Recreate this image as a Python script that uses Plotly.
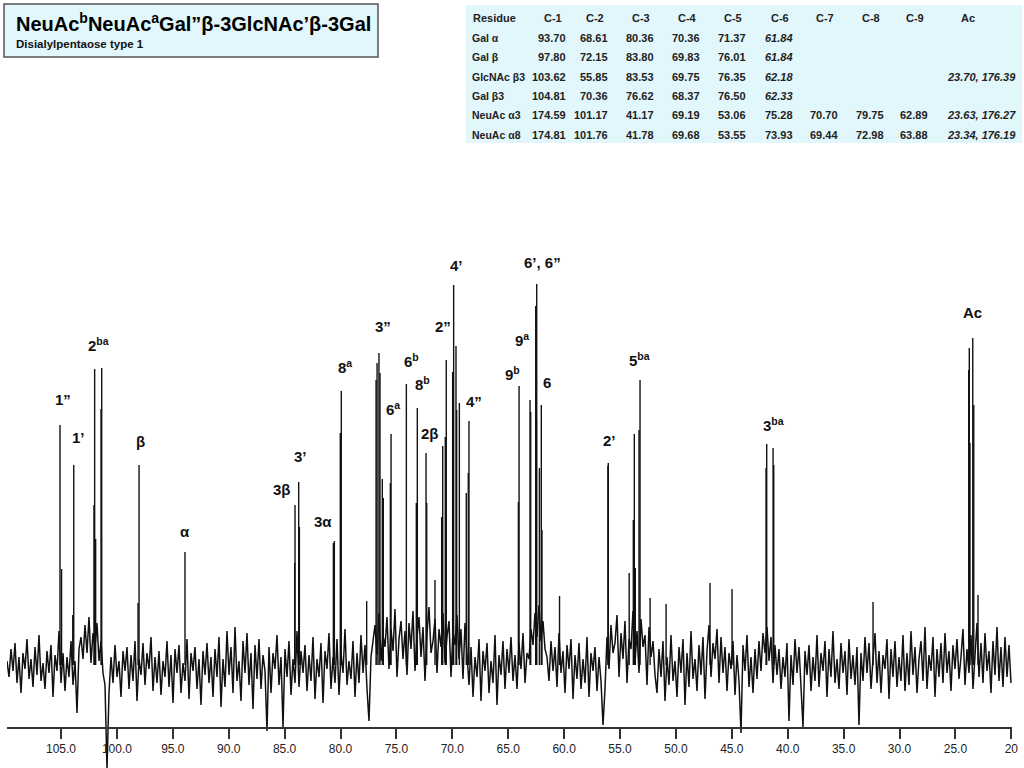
import numpy as np
import plotly.graph_objects as go

# ---------------- data ----------------
title_main = "NeuAc<sup>b</sup>NeuAc<sup>a</sup>Gal\u201dβ-3GlcNAc\u2019β-3Gal"
title_sub = "Disialylpentaose type 1"

table_header = ["Residue", "C-1", "C-2", "C-3", "C-4", "C-5", "C-6", "C-7", "C-8", "C-9", "Ac"]
table_residues = ["Gal α", "Gal β", "GlcNAc β3", "Gal β3", "NeuAc α3", "NeuAc α8"]
table_c1 = ["93.70", "97.80", "103.62", "104.81", "174.59", "174.81"]
table_c2 = ["68.61", "72.15", "55.85", "70.36", "101.17", "101.76"]
table_c3 = ["80.36", "83.80", "83.53", "76.62", "41.17", "41.78"]
table_c4 = ["70.36", "69.83", "69.75", "68.37", "69.19", "69.68"]
table_c5 = ["71.37", "76.01", "76.35", "76.50", "53.06", "53.55"]
table_c6 = ["<i>61.84</i>", "<i>61.84</i>", "<i>62.18</i>", "<i>62.33</i>", "75.28", "73.93"]
table_c7 = ["", "", "", "", "70.70", "69.44"]
table_c8 = ["", "", "", "", "79.75", "72.98"]
table_c9 = ["", "", "", "", "62.89", "63.88"]
table_ac = ["", "", "<i>23.70, 176.39</i>", "", "<i>23.63, 176.27</i>", "<i>23.34, 176.19</i>"]

# peak positions (ppm) and intensities (arbitrary units)
peak_ppm = [105.09, 104.95, 103.95, 103.86, 102.05, 101.99, 101.90, 101.42, 101.36,
            98.11, 98.02, 93.91, 84.10, 84.07, 83.74, 83.68, 80.64, 80.55, 80.02, 79.93,
            77.66, 76.82, 76.73, 76.56, 76.47, 76.26, 76.17, 75.54, 75.48, 74.11,
            73.22, 73.13, 72.35, 72.29, 71.55, 70.95, 70.86, 70.63, 70.54, 69.97,
            69.88, 69.67, 69.61, 69.37, 68.75, 68.57, 68.51, 64.09, 64.03, 63.05,
            62.99, 62.54, 62.48, 62.45, 62.21, 62.04, 61.98, 60.41, 56.08, 56.05,
            54.18, 53.81, 53.72, 53.63, 53.30, 53.21, 52.31, 50.88, 46.95, 44.98,
            41.94, 41.88, 41.31, 41.25, 32.37, 23.81, 23.76, 23.70, 23.45, 23.36, 22.98]
peak_int = [120, 48, 25, 100, 80, 148, 63, 128, 148.5,
            31, 100, 56.5, 51, 80, 91.5, 69, 61, 62, 116, 137,
            32, 142.5, 151, 156, 146, 93, 83.5, 91, 115.5, 140.5,
            81, 128.5, 106, 81, 42.5, 74, 109.5, 114, 152.5, 146.5,
            190, 159.5, 127.5, 131, 86, 96, 122, 81.5, 139.5, 132.5,
            126.5, 179.5, 122.5, 190.5, 98.5, 130, 67.5, 34.5, 99.5, 101,
            46, 72.5, 115.5, 48.5, 117.5, 142.5, 33.5, 30.5, 41, 38,
            98.5, 110.5, 108.5, 100, 31.5, 147.5, 158.5, 111, 163.5, 130, 35]

noise_first_ppm = 109.83
noise_last_ppm = 20.03
noise_int = [
    2, -6, 8, -3, 11, -9, 4, -14, 6, -2, 13, -7, 3, -11, 9, -5, 15, -8, 1, -12, 7, -4, 10, -16, 5,
    -3, 17, -9, 6, -13, 4, -6, 12, -10, 2, -24, 8, 14, 3, 20, 6, 24, 1, 16, 9, 21, 2, 12, -4, -10,
    -52, -14, 4, -9, 10, -6, 2, -16, 7, -3, 9, -12, 5, -8, 12, -18, 3, -5, 11, -10, 6, -2, 14, -13, 4,
    -9, 7, -15, 2, -6, 12, -11, 5, -19, 8, -4, 10, -14, 1, -8, 13, -17, 6, -3, 9, -12, 3, -20, 7, -5,
    11, -9, 4, -16, 8, -6, 14, -21, 3, -11, 17, -5, 9, -14, 19, -8, 2, -18, 12, -4, 16, -10, 6, -22, 10,
    -7, 13, -12, 5, -3, -33, 9, -14, 6, -2, 15, -10, 4, -31, 8, -6, 12, -15, 3, -9, 17, -11, 7, -4, 10,
    -13, 5, -8, 14, -17, 3, -6, 11, -19, 7, -2, 16, -12, 4, -9, 13, -15, 6, -4, 18, -10, 2, -7, 12, -16,
    6, -9, 15, -4, 10, -12, -28, 4, 11, 20, 5, 26, 2, 15, 9, 24, -2, 18, 7, 28, -6, 13, 22, 3, 17,
    -5, 21, 8, 27, -3, 14, 24, 4, 19, -8, 16, 29, 6, 12, 23, -4, 18, 9, 26, 1, 14, 22, -6, 17, 10,
    25, 3, 18, -7, 21, 6, -10, 9, -16, 4, -6, 13, -18, 7, -3, 11, -14, 2, -9, 15, -20, 5, -5, 12, -12,
    8, -4, 14, -8, 5, -12, 11, -2, 16, -9, 6, 3, 18, 10, 26, 14, 30, 12, 22, 8, 4, -8, 12, -3, 9,
    -11, 16, -4, 7, -14, 10, -2, 13, -17, 5, -7, 11, -12, 3, -9, 14, -16, 6, -3, 9, -13, 4, -8, -30, -12,
    14, -2, 20, 6, 11, 25, -6, 16, 3, 22, -9, 13, 8, 27, 1, 17, -4, 23, 9, 15, -10, 19, 4, 12, -5,
    -14, 8, -6, 12, -18, 4, -10, 15, -8, 2, -16, 9, -4, 13, -20, 6, -11, 17, -7, 3, -13, 10, -5, 14, -17,
    7, 20, -6, 11, 3, 18, -9, 14, -4, 9, -13, 6, -2, 12, -15, 5, -8, -34, 10, -3, 15, -11, 4, -14, 8,
    -7, 12, -3, 16, 6, 19, 2, 14, -9, 10, -5, 8, -12, 4, -6, 11, -28, 5, -10, 13, -4, 9, -14, -31, 7,
    -5, 10, -13, 4, -8, 15, -11, 6, -3, 12, -16, 8, -6, 17, -9, 3, -12, 11, -4, 7, -15, 13, -7, 5, -10,
    9, -30, 6, -8, 14, -4, 11, -12, 3, 16, -9, 7, -14, 5, -2, 13, -17, 8, -6, 12, -11, 4, -8, 15, -13,
    6, -10, 17, -5, 9, -14, 3, 12, -8, 19, -12, 5, -3, 14, -16, 8, -6, 11, -9, 16, -4, 7, -13, 10, -2,
    13, -7, 4, 18, -10, 8, -4, 15, -12, 6, 21, -6, 11, -9, 16, -3, 7, -14, 12, -5, 19, -8, 9, -11, 14,
    -6, 10, -9,
]

label_text = ["1\u201d", "1\u2019", "2<sup>ba</sup>", "β", "α", "3β", "3\u2019", "3α",
              "8<sup>a</sup>", "3\u201d", "6<sup>a</sup>", "6<sup>b</sup>", "8<sup>b</sup>", "2β",
              "2\u201d", "4\u2019", "4\u201d", "9<sup>b</sup>", "9<sup>a</sup>", "6\u2019, 6\u201d",
              "6", "2\u2019", "5<sup>ba</sup>", "3<sup>ba</sup>", "Ac"]
label_ppm = [104.82, 103.48, 101.69, 97.93, 93.91, 85.23, 83.62, 81.57,
             79.60, 76.20, 75.30, 73.69, 72.71, 71.99,
             70.83, 69.67, 68.06, 64.66, 63.77, 61.89,
             61.53, 55.98, 53.30, 41.31, 23.43]
label_int = [132.5, 113.5, 160, 111.5, 67, 87.5, 104, 72,
             149, 169, 128, 152, 140.5, 115.5,
             169, 199.5, 131.5, 145.5, 162.5, 201,
             141, 112, 152.5, 120, 176]

axis_range = [109.83, 19.94]
tick_vals = [105, 100, 95, 90, 85, 80, 75, 70, 65, 60, 55, 50, 45, 40, 35, 30, 25, 20]
tick_text = ["105.0", "100.0", "95.0", "90.0", "85.0", "80.0", "75.0", "70.0", "65.0",
             "60.0", "55.0", "50.0", "45.0", "40.0", "35.0", "30.0", "25.0", "20"]

# ---------------- figure ----------------
W, H = 1024, 768
def px(x):
    return x / W
def py(y):
    return 1 - y / H

noise_ppm = np.linspace(noise_first_ppm, noise_last_ppm, len(noise_int))

stick_x, stick_y = [], []
for p, h in zip(peak_ppm, peak_int):
    stick_x += [p, p, None]
    stick_y += [0, h, None]

fig = go.Figure()
fig.add_trace(go.Scatter(x=noise_ppm, y=noise_int, mode="lines",
                         line=dict(color="#111111", width=1.5), hoverinfo="skip"))
fig.add_trace(go.Scatter(x=stick_x, y=stick_y, mode="lines",
                         line=dict(color="#111111", width=1.4), hoverinfo="skip"))

FONT = "Liberation Sans, Arial, sans-serif"
ann = []
for t, xp, yi in zip(label_text, label_ppm, label_int):
    ann.append(dict(x=xp, y=yi, xref="x", yref="y", text="<b>" + t + "</b>",
                    showarrow=False, font=dict(family=FONT, size=15, color="#111")))

shapes = [
    dict(type="rect", xref="paper", yref="paper", x0=px(4), x1=px(378), y0=py(57), y1=py(4),
         fillcolor="#E1F7FB", line=dict(color="#555555", width=1.5), layer="below"),
    dict(type="rect", xref="paper", yref="paper", x0=px(466), x1=px(1022), y0=py(143), y1=py(5),
         fillcolor="#E1F7FB", line=dict(width=0), layer="below"),
]
ann.append(dict(x=px(14), y=py(22), xref="paper", yref="paper", xanchor="left", yanchor="middle",
                text="<b>" + title_main + "</b>", showarrow=False,
                font=dict(family=FONT, size=20, color="#000")))
ann.append(dict(x=px(14), y=py(44), xref="paper", yref="paper", xanchor="left", yanchor="middle",
                text="<b>" + title_sub + "</b>", showarrow=False,
                font=dict(family=FONT, size=11.5, color="#111")))

# table
row_y = [38, 57, 76.5, 96, 115, 134.5]
col_right = [568, 610, 656, 702, 748, 795, 840, 886, 930, 1018]
columns = [table_c1, table_c2, table_c3, table_c4, table_c5, table_c6,
           table_c7, table_c8, table_c9, table_ac]
tfont = dict(family=FONT, size=11, color="#222")
ann.append(dict(x=px(471), y=py(18), xref="paper", yref="paper", xanchor="left", yanchor="middle",
                text="<b>" + table_header[0] + "</b>", showarrow=False, font=tfont))
for j, hdr in enumerate(table_header[1:]):
    cx = col_right[j] - 15 if j < 9 else 968
    ann.append(dict(x=px(cx), y=py(18), xref="paper", yref="paper", xanchor="center",
                    yanchor="middle", text="<b>" + hdr + "</b>", showarrow=False, font=tfont))
for i, res in enumerate(table_residues):
    ann.append(dict(x=px(470), y=py(row_y[i]), xref="paper", yref="paper", xanchor="left",
                    yanchor="middle", text="<b>" + res + "</b>", showarrow=False,
                    font=dict(family=FONT, size=10.5, color="#222")))
    for j, col in enumerate(columns):
        if col[i]:
            ann.append(dict(x=px(col_right[j]), y=py(row_y[i]), xref="paper", yref="paper",
                            xanchor="right", yanchor="middle", text="<b>" + col[i] + "</b>",
                            showarrow=False, font=tfont))

fig.update_layout(
    width=W, height=H, margin=dict(l=0, r=0, t=0, b=0),
    paper_bgcolor="white", plot_bgcolor="white", showlegend=False,
    annotations=ann, shapes=shapes,
    xaxis=dict(domain=[px(7), px(1012)], range=axis_range,
               anchor="free", position=py(728), showline=True, linecolor="#333",
               linewidth=1.5, ticks="outside", ticklen=10, tickwidth=1.5, tickcolor="#333",
               tickvals=tick_vals, ticktext=tick_text, showgrid=False, zeroline=False,
               tickfont=dict(family=FONT, size=12, color="#222"), automargin=False),
    yaxis=dict(domain=[0, 1 - 235 / H], range=[-51.5, 215], visible=False,
               showgrid=False, zeroline=False),
)

fig.write_html("out.html", config={"displayModeBar": False})

# remove the default page margin so the 1024x768 figure fills the window exactly
with open("out.html", encoding="utf-8") as f:
    html = f.read()
html = html.replace("<head>", "<head><style>html,body{margin:0;padding:0;overflow:hidden;}</style>", 1)
with open("out.html", "w", encoding="utf-8") as f:
    f.write(html)
